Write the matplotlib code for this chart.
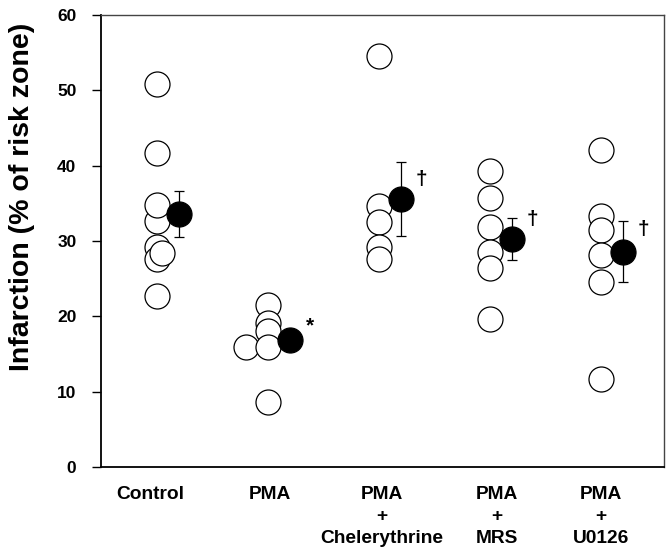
import numpy as np
import matplotlib
matplotlib.use('Agg')
import matplotlib.pyplot as plt
import matplotlib.transforms as mtransforms

plt.rcParams['font.family'] = ['Liberation Sans', 'DejaVu Sans']
plt.rcParams['font.weight'] = 'bold'

# groups and labels
groups = ['Control', 'PMA', 'PMA\n+\nChelerythrine', 'PMA\n+\nMRS', 'PMA\n+\nU0126']

# individual infarct sizes (% of risk zone)
control = [50.8, 41.7, 32.7, 34.8, 29.2, 27.6, 28.4, 22.7]
pma = [15.9, 21.5, 19.1, 18.1, 15.9, 8.6]
pma_chel = [54.5, 34.6, 32.5, 29.2, 27.6]
pma_mrs = [39.3, 35.7, 31.9, 28.5, 26.4, 19.6]
pma_u0126 = [42.1, 33.3, 31.4, 28.2, 24.5, 11.7]

# horizontal jitter of the open circles (category units)
control_jit = [0, 0, 0, 0, 0, 0, 0.045, 0]
pma_jit = [-0.2, 0, 0, 0, 0, 0]

means = [33.6, 16.9, 35.6, 30.3, 28.6]
sems = [3.1, 1.0, 4.9, 2.8, 4.1]

marks = ['', '*', '\u2020', '\u2020', '\u2020']
mark_y = [0, 18.7, 38.1, 32.8, 31.5]

individual = [control, pma, pma_chel, pma_mrs, pma_u0126]
jitters = [control_jit, pma_jit, None, None, None]

# small horizontal nudges of the category labels (pixels)
label_shift = [-7, 2, 3, 7, 0]

fig = plt.figure(figsize=(6.72, 5.55), dpi=100)
ax = fig.add_axes([0.150, 0.1586, 0.838, 0.8144])

for i, vals in enumerate(individual):
    xpos = i + 1
    jit = jitters[i] if jitters[i] is not None else [0] * len(vals)
    for v, j in zip(vals, jit):
        ax.plot(xpos + j, v, 'o', ms=18, mfc='white', mec='black', mew=0.9, zorder=3)

mx = np.arange(1, 6) + 0.2
ax.errorbar(mx, means, yerr=sems, fmt='none', ecolor='black', elinewidth=0.9,
            capsize=3.5, capthick=0.9, zorder=4)
ax.plot(mx, means, 'o', ms=18, mfc='black', mec='black', mew=0.9, zorder=5, ls='none')

for i, m in enumerate(marks):
    if m:
        ax.text(i + 1 + 0.38, mark_y[i], m, ha='center', va='center',
                fontsize=15, fontweight='bold')

ax.set_xlim(0.495, 5.568)
ax.set_ylim(0, 60)
ax.set_yticks(range(0, 61, 10))
ax.set_xticks(range(1, 6))
ax.set_xticklabels(groups, fontsize=13.8, fontweight='bold', linespacing=1.35)
ax.tick_params(axis='x', length=0, pad=14)
ax.tick_params(axis='y', length=6.5, width=1, pad=11, labelsize=12.5)
for lab in ax.get_yticklabels():
    lab.set_fontweight('bold')
for lab, dx in zip(ax.get_xticklabels(), label_shift):
    lab.set_transform(lab.get_transform() + mtransforms.ScaledTranslation(dx / 100, 0, fig.dpi_scale_trans))

ax.set_ylabel('Infarction (% of risk zone)', fontsize=20.5, fontweight='bold')
ax.yaxis.set_label_coords(-0.117, 0.597)

for s in ['left', 'bottom']:
    ax.spines[s].set_linewidth(1.3)
for s in ['top', 'right']:
    ax.spines[s].set_linewidth(1.0)
    ax.spines[s].set_color('#444444')

fig.savefig('out.png', dpi=100)
